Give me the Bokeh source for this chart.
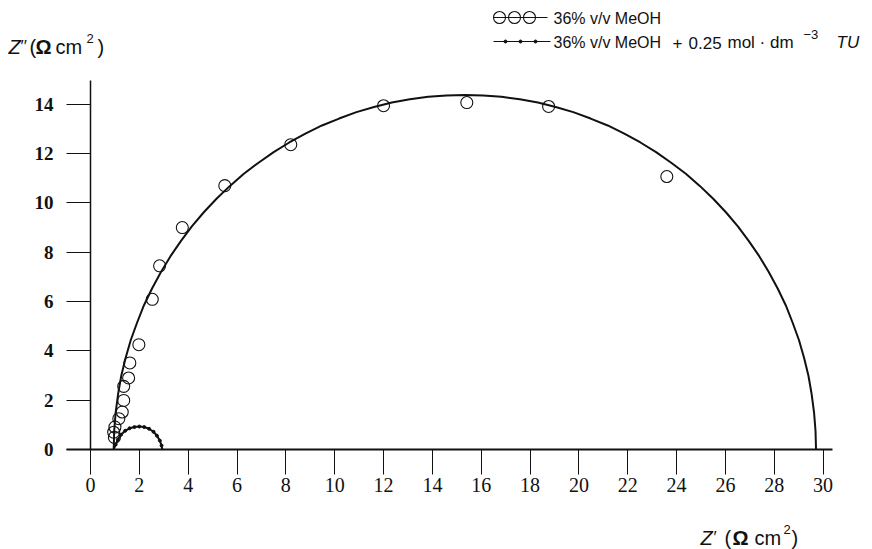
from bokeh.plotting import figure
from bokeh.models import Range1d, LinearAxis, FixedTicker, Label, Grid
from bokeh.embed import file_html
from bokeh.resources import INLINE

# ---------------- data ----------------
meoh_x = [0.95, 0.98, 1.00, 1.16, 1.30, 1.36, 1.36, 1.56, 1.61, 1.98, 2.53, 2.83,
          3.76, 5.50, 8.20, 12.00, 15.41, 18.76, 23.60]
meoh_y = [0.70, 0.49, 0.91, 1.25, 1.52, 1.99, 2.56, 2.90, 3.51, 4.25, 6.09, 7.45,
          9.00, 10.70, 12.36, 13.94, 14.07, 13.91, 11.07]

fit_x = [0.95, 0.97, 1.03, 1.13, 1.26, 1.44, 1.65, 1.91, 2.19, 2.52, 2.88, 3.27,
         3.70, 4.15, 4.64, 5.16, 5.71, 6.28, 6.88, 7.50, 8.14, 8.80, 9.48, 10.18,
         10.89, 11.61, 12.34, 13.08, 13.83, 14.58, 15.33, 16.08, 16.83, 17.58,
         18.32, 19.05, 19.77, 20.48, 21.18, 21.86, 22.52, 23.16, 23.78, 24.38,
         24.95, 25.50, 26.02, 26.51, 26.96, 27.39, 27.78, 28.14, 28.47, 28.75,
         29.01, 29.22, 29.40, 29.53, 29.63, 29.69, 29.71]
fit_y = [0.00, 0.75, 1.50, 2.25, 2.99, 3.72, 4.44, 5.15, 5.85, 6.53, 7.19, 7.83,
         8.45, 9.05, 9.62, 10.17, 10.69, 11.18, 11.63, 12.06, 12.45, 12.81, 13.14,
         13.42, 13.68, 13.89, 14.07, 14.20, 14.30, 14.36, 14.38, 14.36, 14.30,
         14.20, 14.07, 13.89, 13.68, 13.42, 13.14, 12.81, 12.45, 12.06, 11.63,
         11.18, 10.69, 10.17, 9.62, 9.05, 8.45, 7.83, 7.19, 6.53, 5.85, 5.15, 4.44,
         3.72, 2.99, 2.25, 1.50, 0.75, 0.00]

tu_x = [0.95, 1.03, 1.12, 1.25, 1.42, 1.60, 1.80, 2.00, 2.20, 2.40, 2.58, 2.72,
        2.84, 2.91, 2.94]
tu_y = [0.00, 0.20, 0.40, 0.60, 0.76, 0.86, 0.91, 0.93, 0.91, 0.84, 0.72, 0.56,
        0.36, 0.16, 0.00]

x_ticks = [0, 2, 4, 6, 8, 10, 12, 14, 16, 18, 20, 22, 24, 26, 28, 30]
y_ticks = [0, 2, 4, 6, 8, 10, 12, 14]

series1_label = "36% v/v MeOH"
series2_label = "36% v/v MeOH"
series2_conc = "0.25"
series2_unit = "mol \u00b7 dm"
series2_sup = "\u22123"
series2_tail = "TU"

# ---------------- layout helpers (pixel -> data) ----------------
W, H = 872, 549
X0_PX, Y0_PX = 90.0, 449.0
XS, YS = 24.42, 24.66


def fx(px):
    return (px - X0_PX) / XS


def fy(py):
    return (Y0_PX - py) / YS


p = figure(width=W, height=H, output_backend="svg", toolbar_location=None,
           x_range=Range1d(fx(0), fx(W)), y_range=Range1d(fy(H), fy(0)),
           x_axis_location=None, y_axis_location=None, min_border=0)
p.outline_line_color = None
p.background_fill_color = "white"
p.border_fill_color = "white"
for r in list(p.center):
    if isinstance(r, Grid):
        r.visible = False

INK = "#111111"

xaxis = LinearAxis(fixed_location=0, bounds=(fx(66), fx(832)),
                   ticker=FixedTicker(ticks=x_ticks),
                   axis_line_width=2, axis_line_color=INK,
                   major_tick_out=25, major_tick_in=0, major_tick_line_color=INK,
                   major_tick_line_width=1,
                   minor_tick_out=0, minor_tick_in=0,
                   major_label_text_font="Liberation Serif",
                   major_label_text_font_size="20px",
                   major_label_text_color=INK,
                   major_label_standoff=3)
p.add_layout(xaxis, "below")

yaxis = LinearAxis(fixed_location=0, bounds=(0, fy(80)),
                   ticker=FixedTicker(ticks=y_ticks),
                   axis_line_width=1.5, axis_line_color=INK,
                   major_tick_out=24, major_tick_in=0, major_tick_line_color=INK,
                   major_tick_line_width=1,
                   minor_tick_out=0, minor_tick_in=0,
                   major_label_text_font="Liberation Serif",
                   major_label_text_font_size="19px",
                   major_label_text_font_style="bold",
                   major_label_text_color=INK,
                   major_label_standoff=13)
p.add_layout(yaxis, "left")

# ---------------- data marks ----------------
p.line(fit_x, fit_y, line_color=INK, line_width=2, line_join="round")
p.scatter(meoh_x, meoh_y, marker="circle", size=12, fill_color=None,
          line_color=INK, line_width=1.1)
p.line(tu_x, tu_y, line_color=INK, line_width=2, line_join="round")
p.scatter(tu_x[1:-1], tu_y[1:-1], marker="circle", size=3, fill_color=INK,
          line_color=INK)

# ---------------- legend (drawn) ----------------
p.line([fx(493), fx(547)], [fy(17), fy(17)], line_color=INK, line_width=1)
p.scatter([fx(499), fx(514), fx(529)], [fy(17)] * 3, marker="circle", size=12,
          fill_color=None, line_color=INK, line_width=1.1)
p.line([fx(493), fx(550)], [fy(41), fy(41)], line_color=INK, line_width=1)
p.scatter([fx(505), fx(520), fx(535)], [fy(41)] * 3, marker="circle", size=3,
          fill_color=INK, line_color=INK)

SANS = "Liberation Sans"
DY = 5  # labels render a few pixels low; compensate


def lab(px, py, text, size, style="normal", font=SANS):
    p.add_layout(Label(x=fx(px), y=fy(py - DY), text=text, text_font=font,
                       text_font_size=size, text_font_style=style,
                       text_color=INK, text_baseline="alphabetic",
                       text_align="left"))


lab(553, 23, series1_label, "16px")
lab(553, 47, series2_label, "16px")
lab(672, 47, "+", "17px")
lab(688, 47, series2_conc, "17px")
lab(727, 47, series2_unit, "17px")
lab(803, 39, series2_sup, "13px")
lab(836, 47, series2_tail, "17px", "italic")

# y axis title (top-left)
lab(8, 51, "Z", "20px", "italic")
lab(20, 51, "\u2032\u2032", "17px")
lab(29, 51, "(", "20px")
lab(35, 51, "\u03a9", "20px", "bold")
lab(55, 51, "cm", "20px")
lab(86, 43, "2", "13px")
lab(97, 51, ")", "20px")

# x axis title (bottom-right)
lab(700, 542, "Z", "20px", "italic")
lab(713, 542, "\u2032", "17px")
lab(724, 542, "(", "20px")
lab(732, 542, "\u03a9", "20px", "bold")
lab(754, 542, "cm", "20px")
lab(783, 534, "2", "13px")
lab(791, 542, ")", "20px")

open("out.html", "w").write(file_html(p, INLINE))
